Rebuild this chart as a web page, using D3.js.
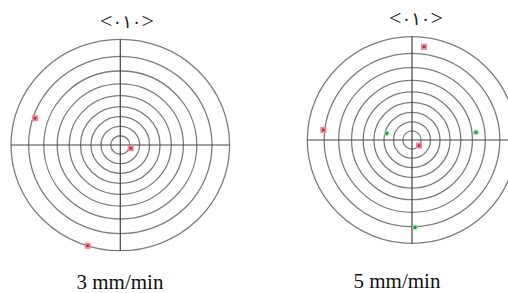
<!DOCTYPE html>
<html><head><meta charset="utf-8">
<script src="https://cdn.jsdelivr.net/npm/d3@7"></script>
<style>body{margin:0;background:#fff;}svg{display:block;}</style>
</head><body>
<svg id="c" width="508" height="293"></svg>
<script>
// Pole figure data (projected coordinates in unit disk, x right, y up)
const titleOpen = "<", titleDigits = "٠١٠", titleClose = ">";
const panelLabels = ["3 mm/min", "5 mm/min"];
const ringAngles = [10, 20, 30, 40, 50, 60, 70, 80, 90]; // polar angles (deg), stereographic
const redLeft = [[-0.780, 0.253], [0.095, -0.031], [-0.298, -0.953]];
const greenLeft = [];
const redRight = [[0.115, 0.903], [-0.847, 0.097], [0.067, -0.055]];
const greenRight = [[-0.242, 0.065], [0.611, 0.075], [0.029, -0.845]];

const panels = [
  {cx: 120.3, cy: 145, rx: 109.3, ry: 105.7, tx: 127, ty: 28, lx: 120, ly: 289, red: redLeft, green: greenLeft},
  {cx: 412, cy: 140, rx: 104.7, ry: 103.3, tx: 416, ty: 25, lx: 397, ly: 288, red: redRight, green: greenRight}
];

const svg = d3.select("#c");
panels.forEach((p, i) => {
  const x = d3.scaleLinear().domain([-1, 1]).range([p.cx - p.rx, p.cx + p.rx]);
  const y = d3.scaleLinear().domain([-1, 1]).range([p.cy + p.ry, p.cy - p.ry]);
  const g = svg.append("g");
  g.selectAll("ellipse.ring").data(ringAngles).join("ellipse")
    .attr("cx", x(0)).attr("cy", y(0))
    .attr("rx", d => x(Math.tan(d * Math.PI / 360)) - x(0))
    .attr("ry", d => y(0) - y(Math.tan(d * Math.PI / 360)))
    .attr("fill", "none").attr("stroke", "#7d7d7d").attr("stroke-width", 1.3);
  g.append("line").attr("x1", x(-1)).attr("x2", x(1)).attr("y1", y(0)).attr("y2", y(0))
    .attr("stroke", "#444").attr("stroke-width", 1.2);
  g.append("line").attr("x1", x(0)).attr("x2", x(0)).attr("y1", y(-1)).attr("y2", y(1))
    .attr("stroke", "#444").attr("stroke-width", 1.2);
  // red squares
  g.selectAll("rect.rh").data(p.red).join("rect")
    .attr("x", d => x(d[0]) - 3).attr("y", d => y(d[1]) - 3)
    .attr("width", 6).attr("height", 6).attr("fill", "#e8899a");
  g.selectAll("rect.rc").data(p.red).join("rect")
    .attr("x", d => x(d[0]) - 1.2).attr("y", d => y(d[1]) - 1.2)
    .attr("width", 2.4).attr("height", 2.4).attr("fill", "#b8203a");
  // green dots
  g.selectAll("circle.gh").data(p.green).join("circle")
    .attr("cx", d => x(d[0])).attr("cy", d => y(d[1])).attr("r", 2.8).attr("fill", "#a8d8b0");
  g.selectAll("circle.gc").data(p.green).join("circle")
    .attr("cx", d => x(d[0])).attr("cy", d => y(d[1])).attr("r", 1.6).attr("fill", "#1e9a46");
  const t = g.append("text").attr("x", p.tx).attr("y", p.ty).attr("text-anchor", "middle")
    .attr("font-family", "Liberation Serif, DejaVu Sans, serif").attr("font-size", 22).attr("fill", "#222");
  t.append("tspan").text(titleOpen);
  t.append("tspan").attr("font-family", "DejaVu Sans, sans-serif").attr("font-size", 18).text(titleDigits);
  t.append("tspan").text(titleClose);
  g.append("text").attr("x", p.lx).attr("y", p.ly).attr("text-anchor", "middle")
    .attr("font-family", "Liberation Serif, Times New Roman, serif").attr("font-size", 21).attr("fill", "#111")
    .text(panelLabels[i]);
});
</script>
</body></html>
